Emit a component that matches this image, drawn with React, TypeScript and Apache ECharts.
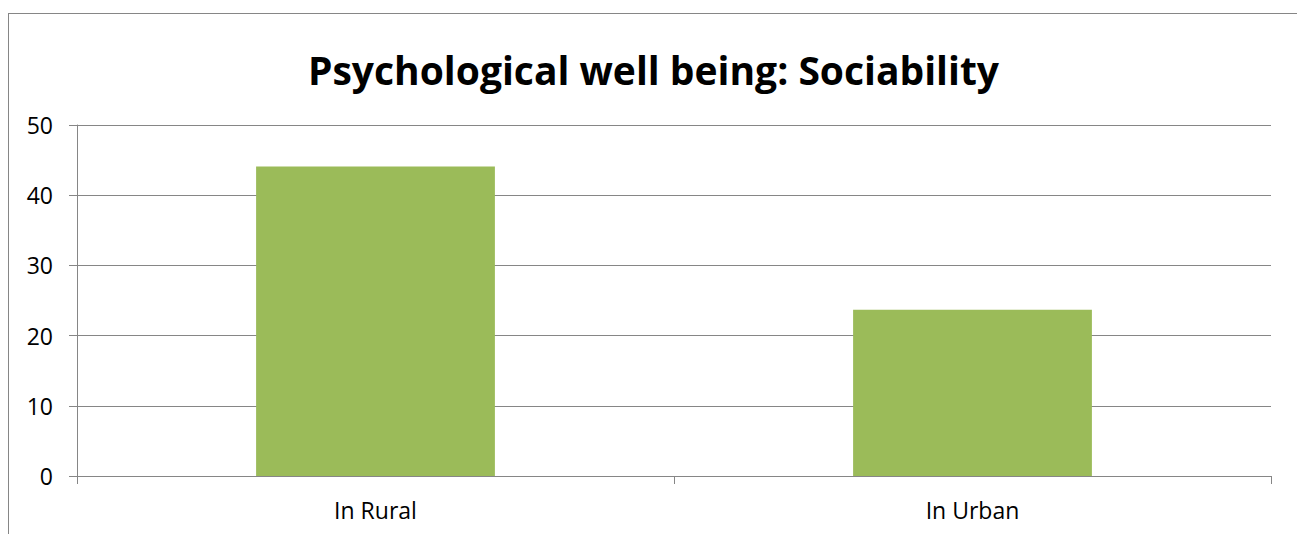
import React, { useEffect, useRef } from "react";
import * as echarts from "echarts";

const categories = ["In Rural", "In Urban"];
const values = [44.1, 23.7];
const yTicks = { min: 0, max: 50, interval: 10 };
const title = "Psychological well being: Sociability";

export default function App() {
  const ref = useRef<HTMLDivElement>(null);
  useEffect(() => {
    if (!ref.current) return;
    const chart = echarts.init(ref.current, undefined, { renderer: "svg" });
    chart.setOption({
      animation: false,
      title: {
        text: title,
        left: "center",
        top: 31,
        textStyle: {
          fontFamily: "'Open Sans', 'Noto Sans', sans-serif",
          fontWeight: "bold",
          fontSize: 39,
          color: "#000",
        },
      },
      grid: { left: 68, top: 111, right: 27, bottom: 76, containLabel: false },
      xAxis: {
        type: "category",
        data: categories,
        axisLine: { lineStyle: { color: "#868686", width: 1 } },
        axisTick: { show: true, length: 8, inside: false, alignWithLabel: false, lineStyle: { color: "#868686" } },
        axisLabel: { color: "#000", fontSize: 23, margin: 22, fontFamily: "'Open Sans', sans-serif" },
      },
      yAxis: {
        type: "value",
        min: yTicks.min,
        max: yTicks.max,
        interval: yTicks.interval,
        axisLine: { show: true, lineStyle: { color: "#868686", width: 1 } },
        axisTick: { show: true, length: 8, lineStyle: { color: "#868686" } },
        axisLabel: { color: "#000", fontSize: 23, margin: 24, fontFamily: "'Open Sans', sans-serif" },
        splitLine: { show: true, lineStyle: { color: "#868686", width: 1 } },
      },
      series: [
        {
          type: "bar",
          data: values,
          barWidth: "40%",
          itemStyle: { color: "#9BBB59" },
        },
      ],
    });
    return () => chart.dispose();
  }, []);
  return (
    <div style={{ paddingTop: 5 }}>
      <div
        style={{
          width: 1291,
          height: 540,
          border: "1px solid #868686",
          boxSizing: "border-box",
          background: "#fff",
        }}
      >
        <div ref={ref} style={{ width: 1289, height: 538 }} />
      </div>
    </div>
  );
}
